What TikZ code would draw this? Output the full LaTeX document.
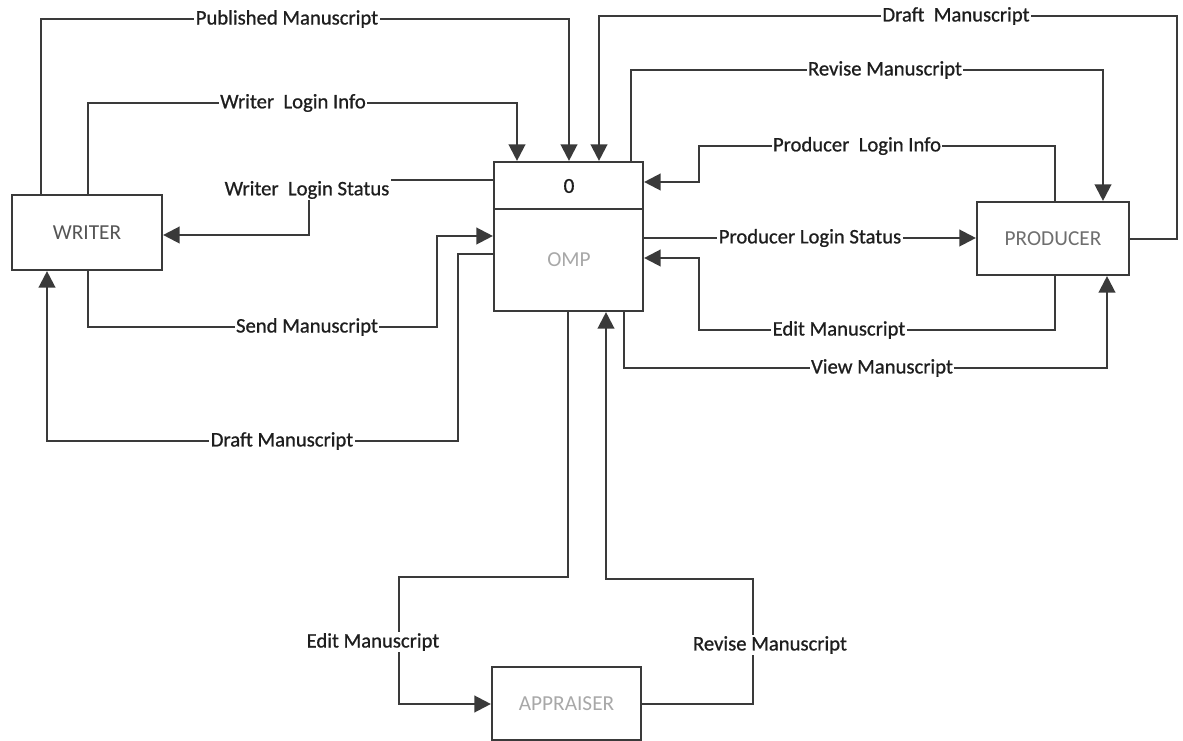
\documentclass[tikz,border=0pt]{standalone}
\usepackage{fontspec}
\setmainfont{Carlito}
\newfontfamily\lblfont{Carlito}[BoldFont={Carlito}, BoldFeatures={FakeBold=0.8}]
\usetikzlibrary{arrows.meta,calc}
\definecolor{lc}{HTML}{3A3A3A}
\definecolor{tc}{HTML}{1E1E1E}
\definecolor{boxtxt}{HTML}{555555}
\definecolor{paletxt}{HTML}{A8A8A8}
\tikzset{
  ln/.style={draw=lc, line width=1.7pt},
  arr/.style={ln, -{Triangle[length=12.5pt,width=12.5pt]}},
  entity/.style={draw=lc, line width=1.6pt, rectangle, inner sep=0pt, font=\fontsize{16}{19}\selectfont},
  lbl/.style={fill=white, inner sep=1pt, text=tc, font=\fontsize{15.5}{18}\selectfont\lblfont\bfseries},
}
\begin{document}
\begin{tikzpicture}[x=0.75pt,y=-0.75pt]
\useasboundingbox (0,0) rectangle (1183,741);
% boxes
\node[entity, minimum width=112.5pt, minimum height=56.25pt, text=boxtxt] (writer) at (87,232.5) {WRITER};
\node[entity, minimum width=111.75pt, minimum height=111.75pt] (omp) at (568.5,236.5) {};
\node[entity, minimum width=114pt, minimum height=54.75pt, text=boxtxt!85] (producer) at (1053,238.5) {PRODUCER};
\node[entity, minimum width=111.75pt, minimum height=54.75pt, text=paletxt] (appraiser) at (566.5,703.5) {APPRAISER};
\draw[ln] (omp.west |- 0,209) -- (omp.east |- 0,209);
\node[font=\fontsize{16}{19}\selectfont\lblfont\bfseries, text=tc] (zero) at (569,186) {0};
\node[font=\fontsize{16}{19}\selectfont, text=paletxt] (ompname) at (569,260) {OMP};
% label placed first so connectors can refer to it
\node[lbl, fill=none] (wls) at (307,190) {Writer~~Login Status};
% connectors
\draw[arr] (writer.north -| 41,0) -- (41,19) -| (omp.north -| 569,0);
\draw[arr] (writer.north -| 88,0) -- (88,103) -| (omp.north -| 517,0);
\draw[ln] (omp.west |- 0,180) -- (wls.north east |- 0,180);
\draw[arr] (wls.south -| 309,0) |- (writer.east |- 0,235);
\draw[arr] (writer.south -| 88,0) -- (88,327) -| (437,236) -- (omp.west |- 0,236);
\draw[arr] (omp.west |- 0,254) -- (458,254) |- (47,441) -- (writer.south -| 47,0);
\draw[arr] (producer.east |- 0,239) -- (1177,239) |- (599,16) -- (omp.north -| 599,0);
\draw[arr] (omp.north -| 631,0) -- (631,70) -| (producer.north -| 1103,0);
\draw[arr] (producer.north -| 1055,0) -- (1055,146) -| (699,182) -- (omp.east |- 0,182);
\draw[arr] (omp.east |- 0,238) -- (producer.west |- 0,238);
\draw[arr] (producer.south -| 1055,0) -- (1055,330) -| (699,258) -- (omp.east |- 0,258);
\draw[arr] (omp.south -| 624,0) -- (624,368) -| (producer.south -| 1107,0);
\draw[arr] (omp.south -| 568,0) -- (568,577) -| (399,704) -- (appraiser.west |- 0,704);
\draw[arr] (appraiser.east |- 0,704) -- (753,704) |- (606,579) -- (omp.south -| 606,0);
% labels on connectors
\node[lbl] (l1) at (287,19) {Published Manuscript};
\node[lbl] (l2) at (293,103) {Writer~~Login Info};
\node[lbl] (l3) at (307,327) {Send Manuscript};
\node[lbl] (l4) at (282,441) {Draft Manuscript};
\node[lbl] (l5) at (956,16) {Draft~~Manuscript};
\node[lbl] (l6) at (885,70) {Revise Manuscript};
\node[lbl] (l7) at (857,146) {Producer~~Login Info};
\node[lbl] (l8) at (810,238) {Producer Login Status};
\node[lbl] (l9) at (839,330) {Edit Manuscript};
\node[lbl] (l10) at (882,368) {View Manuscript};
\node[lbl] (l11) at (373,642) {Edit Manuscript};
\node[lbl] (l12) at (770,645) {Revise Manuscript};
\end{tikzpicture}
\end{document}
